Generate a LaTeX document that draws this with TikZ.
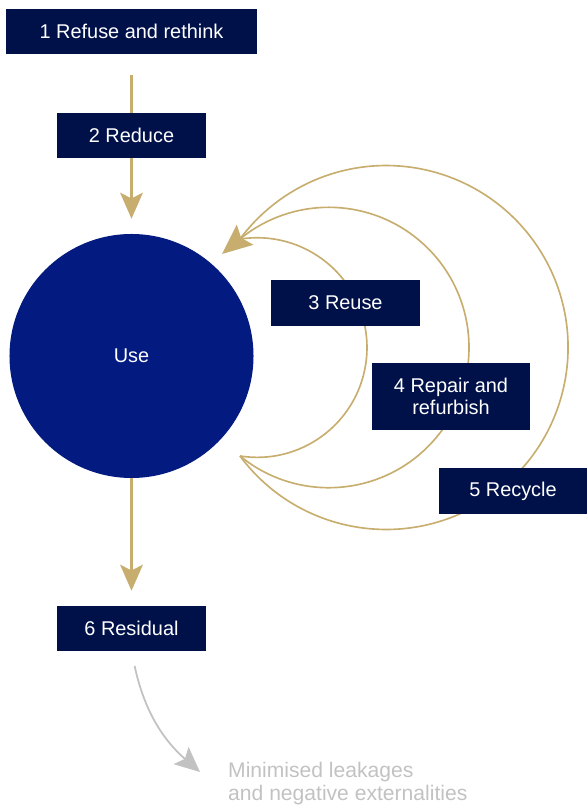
\documentclass[tikz,border=0pt]{standalone}
\usepackage{fontspec}
\setmainfont{Liberation Sans}
\usetikzlibrary{arrows.meta,positioning}
\definecolor{navy}{HTML}{00114A}
\definecolor{deepblue}{HTML}{031A80}
\definecolor{gold}{HTML}{C8AE6E}
\definecolor{ash}{HTML}{C2C2C2}

\begin{document}
\begin{tikzpicture}[x=0.03cm,y=0.03cm,every node/.style={font=\fontsize{17}{19.4}\selectfont},
  box/.style={fill=navy,text=white,inner sep=0pt,minimum width=4.47cm,minimum height=1.35cm,align=center},
  flow/.style={draw=gold,line width=1.8pt},
  ring/.style={draw=gold,line width=1.4pt},
  leak/.style={draw=ash,line width=1.5pt}]
\useasboundingbox (0,0) rectangle (587,806);
\node[box,minimum width=7.53cm] (b1) at (131.5,774.5) {1 Refuse and rethink};
\node[box] (b2) at (131.5,670.5) {2 Reduce};
\node[circle,fill=deepblue,text=white,minimum size=7.32cm,inner sep=0pt] (u) at (131.5,450) {Use};
\node[box] (b6) at (131.5,177.5) {6 Residual};
\coordinate (c0) at (240,350);
\coordinate (c1) at (240,567);
\coordinate (c2) at (222,552);
\coordinate (c3) at (200,34);
\draw[ring] (c0) arc[start angle=-99,end angle=99,radius=3.294cm];
\draw[ring] (c0) arc[start angle=-129.3,end angle=129.3,radius=4.206cm];
\draw[ring] (c0) arc[start angle=-143.4,end angle=143.4,radius=5.459cm];
\draw[ring,-{Stealth[length=0.9cm,width=0.78cm,inset=0.15cm]}] (c1) -- (c2);
\node[box,minimum height=1.38cm] (b3) at (345.5,503) {3 Reuse};
\node[box,minimum width=4.74cm,minimum height=2.01cm] (b4) at (451,409.5) {4 Repair and\\refurbish};
\node[box,minimum width=4.44cm,minimum height=1.38cm] (b5) at (513,315) {5 Recycle};
\draw[flow,shorten <=0.63cm] (b1) -- (b2);
\draw[flow,-{Stealth[length=0.78cm,width=0.68cm,inset=0.17cm]},shorten >=0.45cm] (b2) -- (u);
\draw[flow,-{Stealth[length=0.78cm,width=0.68cm,inset=0.17cm]},shorten >=0.45cm] (u) -- (b6);
\draw[leak,-{Stealth[length=0.75cm,width=0.68cm,inset=0.15cm]},shorten <=0.45cm] (b6.south) to[out=-78,in=139] (c3);
\node[text=ash,anchor=west,align=left,inner sep=0pt,font=\fontsize{18}{20.4}\selectfont] (t) at (228,22.5) {Minimised leakages\\and negative externalities};
\end{tikzpicture}
\end{document}
